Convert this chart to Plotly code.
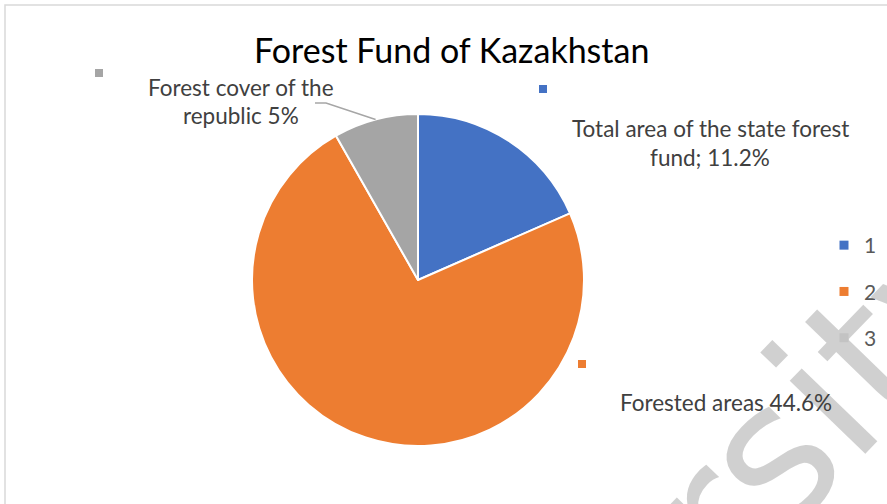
import math
import plotly.graph_objects as go

# ---- data ----
categories = ["1", "2", "3"]
values = [11.2, 44.6, 5.0]
label_lines = [["Total area of the state forest", "fund; 11.2%"],
               ["Forested areas 44.6%"],
               ["Forest cover of the", "republic 5%"]]
colors = ["#4472C4", "#ED7D31", "#A5A5A5"]
title_text = "Forest Fund of Kazakhstan"

W, H = 887, 504
FONT = "Lato, 'Open Sans', sans-serif"


def px(x, y):
    return x / W, 1 - y / H


# pie geometry (in pixels)
CX, CY, R = 418, 280, 166
dx0, dy0 = px(CX - R, CY + R)
dx1, dy1 = px(CX + R, CY - R)

fig = go.Figure()
fig.add_trace(go.Pie(
    labels=categories, values=values, sort=False, direction="clockwise",
    rotation=0, textinfo="none", hoverinfo="label+value",
    marker=dict(colors=colors, line=dict(color="white", width=2)),
    domain=dict(x=[dx0, dx1], y=[dy0, dy1]), showlegend=False,
))

# legend via invisible scatter traces (one group each for spacing)
for c, col in zip(categories, colors):
    fig.add_trace(go.Scatter(
        x=[None], y=[None], mode="markers", name=c, legendgroup=c,
        marker=dict(symbol="square", size=9, color=col), showlegend=True,
    ))

annotations = []
shapes = []

# watermark (drawn first so it sits under the labels)
wx, wy = px(826, 398)
annotations.append(dict(text="rsity", x=wx, y=wy, xref="paper", yref="paper",
                        showarrow=False, xanchor="center", yanchor="middle",
                        textangle=-46,
                        font=dict(family="'DejaVu Sans', sans-serif", size=192,
                                  color="rgba(200,200,200,0.85)")))

# title
tx, ty = px(451, 50)
annotations.append(dict(text=title_text, x=tx, y=ty, xref="paper", yref="paper",
                        showarrow=False, xanchor="center", yanchor="middle",
                        font=dict(family=FONT, size=34, color="#000000")))


def label(lines, cx, ys, key_xy, color):
    for line, yy in zip(lines, ys):
        ax, ay = px(cx, yy)
        annotations.append(dict(text=line, x=ax, y=ay, xref="paper", yref="paper",
                                showarrow=False, xanchor="center", yanchor="middle",
                                font=dict(family=FONT, size=22.5, color="#404040")))
    kx, ky = key_xy
    s = 4
    x0, y0 = px(kx - s, ky + s)
    x1, y1 = px(kx + s, ky - s)
    shapes.append(dict(type="rect", xref="paper", yref="paper", x0=x0, y0=y0,
                       x1=x1, y1=y1, fillcolor=color, line=dict(width=0)))


label(label_lines[0], 710, [128, 157], (543, 89), colors[0])
label(label_lines[1], 726, [402], (582, 364), colors[1])
label(label_lines[2], 241, [87, 116], (99, 73), colors[2])

# leader line for the gray slice, ending at mid-angle of the slice on the pie edge
total = sum(values)
start = sum(values[:2]) / total * 360
mid = math.radians(start + values[2] / total * 360 / 2)
ex, ey = CX + R * math.sin(mid), CY - R * math.cos(mid)
p1 = px(315, 103)
p2 = px(326, 103)
p3 = px(ex, ey)
shapes.append(dict(type="path", xref="paper", yref="paper",
                   path=f"M {p1[0]} {p1[1]} L {p2[0]} {p2[1]} L {p3[0]} {p3[1]}",
                   line=dict(color="#A6A6A6", width=1.5)))

# chart border (partly cropped)
bx0, by1 = px(5, 5)
shapes.append(dict(type="rect", xref="paper", yref="paper", x0=bx0, y0=-0.05,
                   x1=1.05, y1=by1, line=dict(color="#D9D9D9", width=1.5),
                   fillcolor="rgba(0,0,0,0)", layer="below"))

lx, ly = px(824, 225)
fig.update_layout(
    width=W, height=H, margin=dict(l=0, r=0, t=0, b=0),
    paper_bgcolor="white", plot_bgcolor="white",
    xaxis=dict(visible=False), yaxis=dict(visible=False),
    showlegend=True,
    legend=dict(x=lx, y=ly, xanchor="left", yanchor="top", traceorder="grouped",
                tracegroupgap=16, bgcolor="rgba(0,0,0,0)",
                font=dict(family=FONT, size=21, color="#595959")),
    annotations=annotations, shapes=shapes,
)

fig.write_html("out.html", config={"displayModeBar": False},
               post_script="document.body.style.margin='0';document.body.style.overflow='hidden';")
